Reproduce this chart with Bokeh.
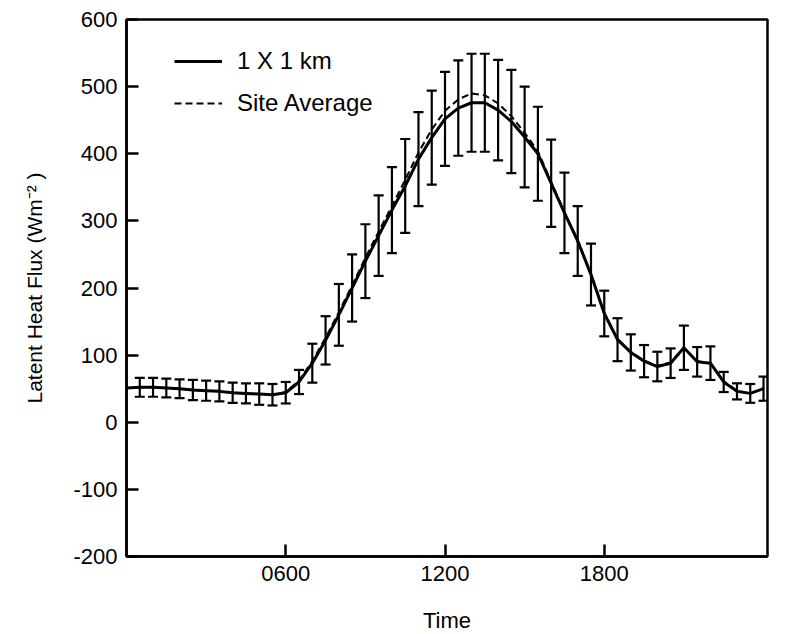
from bokeh.plotting import figure
from bokeh.models import (ColumnDataSource, Whisker, TeeHead, FixedTicker, Legend, LegendItem, Range1d)
from bokeh.embed import file_html
from bokeh.resources import INLINE

# Time in hours (half-hourly)
hours = [i * 0.5 for i in range(49)]
flux_1km = [51, 52, 52, 51, 50, 48, 47, 46, 44, 43, 42, 41, 44, 60, 88, 122, 160, 200, 240, 278,
            316, 352, 392, 424, 452, 468, 476, 476, 465, 448, 425, 400, 356, 312, 270, 220, 162, 123,
            104, 91, 83, 88, 111, 90, 88, 60, 46, 43, 50]
flux_site = [51, 52, 52, 51, 50, 48, 47, 46, 44, 43, 42, 41, 45, 62, 91, 126, 164, 204, 245, 284,
             322, 361, 402, 436, 464, 481, 490, 487, 475, 456, 431, 404, 358, 313, 271, 221, 163, 124,
             105, 92, 84, 89, 111, 91, 88, 61, 47, 43, 50]
# error bar half-lengths for hours 0.5 .. 24.0
err = [14, 14, 14, 14, 15, 15, 15, 15, 15, 16, 16, 16, 18, 29, 36, 46, 50, 55, 60, 64,
       70, 70, 70, 70, 71, 73, 73, 75, 77, 75, 70, 65, 60, 52, 46, 34, 32, 27, 24, 22,
       22, 33, 22, 25, 15, 12, 14, 18]

x_ticks = [6, 12, 18]
x_tick_labels = ["0600", "1200", "1800"]
y_ticks = [-200, -100, 0, 100, 200, 300, 400, 500, 600]
y_tick_labels = ["-200", "-100", "0", "100", "200", "300", "400", "500", "600"]

FONT = "Liberation Sans"

p = figure(frame_width=641, frame_height=537, output_backend="svg", toolbar_location=None,
           x_range=Range1d(0, 24.15), y_range=Range1d(-200, 600),
           min_border_left=126, min_border_top=19, min_border_right=12, min_border_bottom=70)
p.background_fill_color = "white"
p.border_fill_color = "white"
p.grid.visible = False
p.outline_line_color = "black"
p.outline_line_width = 2.5

src_line = ColumnDataSource(dict(x=hours, a=flux_1km, b=flux_site))
bx = hours[1:]
bc = flux_1km[1:]
src_err = ColumnDataSource(dict(x=bx,
                                lo=[c - e for c, e in zip(bc, err)],
                                hi=[c + e for c, e in zip(bc, err)]))

r_site = p.line("x", "b", source=src_line, line_color="black", line_width=2, line_dash="7 4")
r_km = p.line("x", "a", source=src_line, line_color="black", line_width=3, line_join="round")

wh = Whisker(source=src_err, base="x", lower="lo", upper="hi", line_color="black", line_width=2.2,
             upper_head=TeeHead(size=10, line_width=2.2, line_color="black"),
             lower_head=TeeHead(size=10, line_width=2.2, line_color="black"))
p.add_layout(wh)

for ax in (p.xaxis[0], p.yaxis[0]):
    ax.axis_line_width = 2.5
    ax.axis_line_color = "black"
    ax.major_tick_in = 12
    ax.major_tick_out = 0
    ax.major_tick_line_width = 2.5
    ax.major_tick_line_color = "black"
    ax.minor_tick_line_color = None
    ax.major_label_text_font = FONT
    ax.major_label_text_font_size = "22px"
    ax.major_label_text_color = "black"
    ax.axis_label_text_font = FONT
    ax.axis_label_text_font_style = "normal"
    ax.axis_label_text_color = "black"

p.xaxis.ticker = FixedTicker(ticks=x_ticks)
p.xaxis.major_label_overrides = {t: l for t, l in zip(x_ticks, x_tick_labels)}
p.xaxis.axis_label = "Time"
p.xaxis.axis_label_text_font_size = "22px"
p.xaxis.major_label_standoff = 9
p.xaxis.axis_label_standoff = 24

p.yaxis.ticker = FixedTicker(ticks=y_ticks)
p.yaxis.major_label_overrides = {t: l for t, l in zip(y_ticks, y_tick_labels)}
p.yaxis.axis_label = "Latent Heat Flux (Wm\u207b\u00b2 )"
p.yaxis.axis_label_text_font_size = "21px"
p.yaxis.major_label_standoff = 9
p.yaxis.axis_label_standoff = 24

legend = Legend(items=[LegendItem(label="1 X 1 km", renderers=[r_km]),
                       LegendItem(label="Site Average", renderers=[r_site])],
                location=(48, 439), margin=0, padding=0, spacing=14,
                glyph_width=48, glyph_height=26, label_height=26, label_standoff=15,
                label_text_font=FONT, label_text_font_size="24px", label_text_color="black",
                border_line_color=None, background_fill_alpha=0)
p.add_layout(legend)

open("out.html", "w").write(file_html(p, INLINE))
